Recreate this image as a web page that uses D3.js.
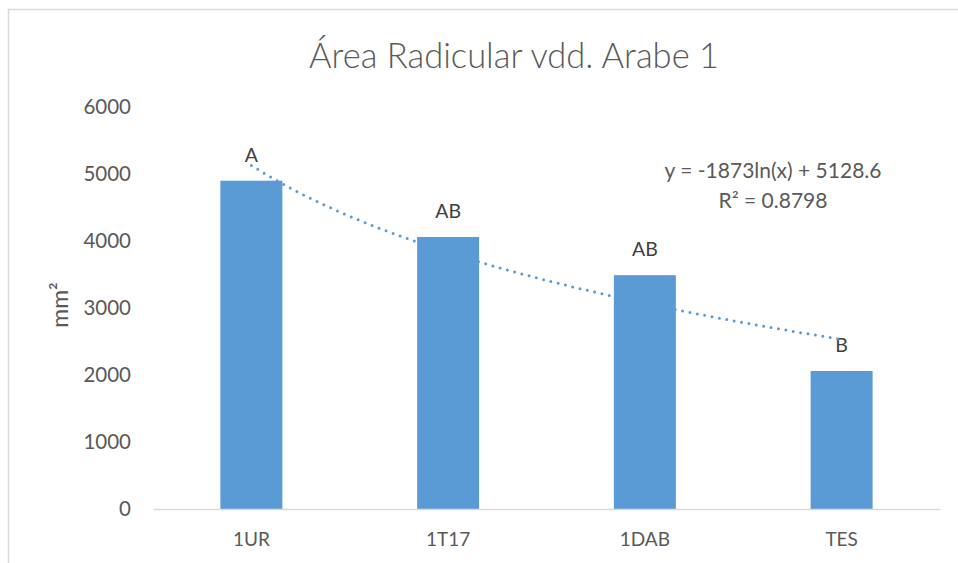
<!DOCTYPE html>
<html>
<head>
<meta charset="utf-8">
<script src="https://cdn.jsdelivr.net/npm/d3@7"></script>
<style>
  body { margin: 0; background: #fff; }
  svg { display: block; font-family: Lato, "Open Sans", sans-serif; }
</style>
</head>
<body>
<div id="chart"></div>
<script>
const categories = ['1UR', '1T17', '1DAB', 'TES'];
const values = [4900, 4060, 3490, 2060];
const letters = ['A', 'AB', 'AB', 'B'];
const yTicks = [0, 1000, 2000, 3000, 4000, 5000, 6000];
const trendCoef = [-1873, 5128.6];   // y = a ln(x) + b
const trendText = ['y = -1873ln(x) + 5128.6', 'R² = 0.8798'];

const W = 958, H = 563;
const plot = { left: 153, right: 940, top: 107, bottom: 509 };
const textCol = '#595959', barCol = '#5b9bd5';

const svg = d3.select('#chart').append('svg')
    .attr('width', W)
    .attr('height', H);

// chart frame (cut off on the right and bottom like the original)
svg.append('rect')
    .attr('x', 8.5).attr('y', 9.5)
    .attr('width', 1000).attr('height', 1000)
    .attr('fill', 'none')
    .attr('stroke', '#d9d9d9')
    .attr('stroke-width', 1.5);

const xScale = d3.scaleBand()
    .domain(categories)
    .range([plot.left, plot.right])
    .paddingInner(0.685)
    .paddingOuter(0.3425);

const yScale = d3.scaleLinear()
    .domain([0, 6000])
    .range([plot.bottom, plot.top]);

svg.append('text')
    .text('Área Radicular vdd. Arabe 1')
    .attr('x', 514).attr('y', 68)
    .attr('text-anchor', 'middle')
    .attr('fill', textCol)
    .attr('font-weight', 300)
    .attr('font-size', 34.5);

// y axis: labels only
const yAxis = d3.axisLeft(yScale)
    .tickValues(yTicks)
    .tickFormat(d3.format('d'))
    .tickSize(0)
    .tickPadding(0);
svg.append('g')
    .attr('transform', 'translate(131,0)')
    .call(yAxis)
    .call(g => g.select('.domain').remove())
    .call(g => g.selectAll('text')
        .attr('fill', textCol)
        .attr('font-size', 20.5)
        .attr('font-family', 'Lato, sans-serif'));

svg.append('text')
    .attr('transform', 'translate(68,305) rotate(-90)')
    .attr('text-anchor', 'middle')
    .attr('fill', textCol)
    .attr('font-size', 23)
    .text('mm²');

// bars
svg.selectAll('rect.bar')
    .data(values)
    .enter()
    .append('rect')
    .attr('class', 'bar')
    .attr('x', (d, i) => xScale(categories[i]))
    .attr('y', d => yScale(d))
    .attr('width', xScale.bandwidth())
    .attr('height', d => yScale(0) - yScale(d))
    .attr('fill', barCol);

// x axis
const xAxis = d3.axisBottom(xScale)
    .tickSize(0)
    .tickPadding(24);
svg.append('g')
    .attr('transform', `translate(0,${plot.bottom})`)
    .call(xAxis)
    .call(g => g.select('.domain')
        .attr('stroke', '#d9d9d9')
        .attr('stroke-width', 1.5))
    .call(g => g.selectAll('text')
        .attr('fill', textCol)
        .attr('font-size', 19)
        .attr('font-family', 'Lato, sans-serif'));

// significance letters
svg.selectAll('text.letter')
    .data(values)
    .enter()
    .append('text')
    .attr('class', 'letter')
    .attr('x', (d, i) => xScale(categories[i]) + xScale.bandwidth() / 2)
    .attr('y', d => yScale(d) - 19)
    .attr('text-anchor', 'middle')
    .attr('fill', '#404040')
    .attr('font-size', 19.5)
    .text((d, i) => letters[i]);

// logarithmic trendline
const xPos = d3.scaleLinear()
    .domain([1, categories.length])
    .range([xScale(categories[0]) + xScale.bandwidth() / 2,
            xScale(categories[categories.length - 1]) + xScale.bandwidth() / 2]);
const trendX = d3.range(1, categories.length + 0.001, 0.05);
const line = d3.line()
    .x(d => xPos(d))
    .y(d => yScale(trendCoef[0] * Math.log(d) + trendCoef[1]))
    .curve(d3.curveMonotoneX);
svg.append('path')
    .datum(trendX)
    .attr('d', line)
    .attr('fill', 'none')
    .attr('stroke', barCol)
    .attr('stroke-width', 3)
    .attr('stroke-linecap', 'round')
    .attr('stroke-dasharray', '0,7.5');

svg.selectAll('text.eq')
    .data(trendText)
    .enter()
    .append('text')
    .attr('class', 'eq')
    .attr('x', 773)
    .attr('y', (d, i) => 178 + i * 30)
    .attr('text-anchor', 'middle')
    .attr('fill', textCol)
    .attr('font-size', 21)
    .text(d => d);
</script>
</body>
</html>
